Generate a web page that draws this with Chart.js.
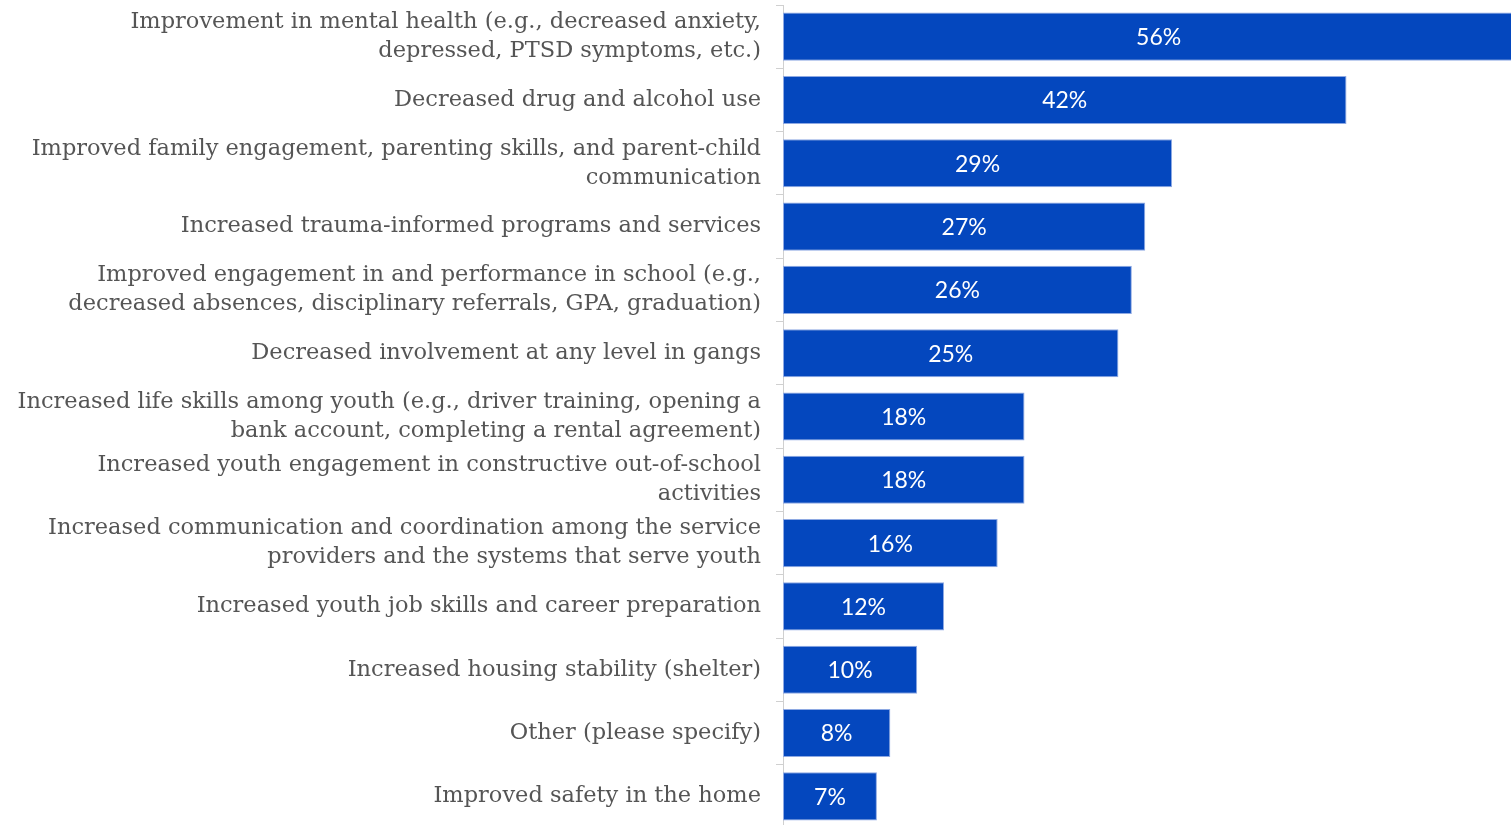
<!DOCTYPE html>
<html>
<head>
<meta charset="utf-8">
<script src="https://cdn.jsdelivr.net/npm/chart.js@4"></script>
<style>
  html, body { margin: 0; padding: 0; background: #fff; overflow: hidden; }
  #wrap { position: relative; width: 1588px; height: 830px; }
</style>
</head>
<body>
<div id="wrap"><canvas id="myChart"></canvas></div>
<script>
// outcomes reported, share of respondents
const categories = [
  ['Improvement in mental health (e.g., decreased anxiety,', 'depressed, PTSD symptoms, etc.)'],
  'Decreased drug and alcohol use',
  ['Improved family engagement, parenting skills, and parent-child', 'communication'],
  'Increased trauma-informed programs and services',
  ['Improved engagement in and performance in school (e.g.,', 'decreased absences, disciplinary referrals, GPA, graduation)'],
  'Decreased involvement at any level in gangs',
  ['Increased life skills among youth (e.g., driver training, opening a', 'bank account, completing a rental agreement)'],
  ['Increased youth engagement in constructive out-of-school', 'activities'],
  ['Increased communication and coordination among the service', 'providers and the systems that serve youth'],
  'Increased youth job skills and career preparation',
  'Increased housing stability (shelter)',
  'Other (please specify)',
  'Improved safety in the home'
];
const values = [56, 42, 29, 27, 26, 25, 18, 18, 16, 12, 10, 8, 7];

const barColor = '#0447be';

// white percentage text in the middle of each bar
const valueLabels = {
  id: 'valueLabels',
  afterDatasetsDraw(chart) {
    const ctx = chart.ctx;
    const meta = chart.getDatasetMeta(0);
    ctx.save();
    ctx.fillStyle = '#ffffff';
    ctx.font = '23px Lato';
    ctx.textAlign = 'center';
    ctx.textBaseline = 'middle';
    meta.data.forEach((bar, i) => {
      const cx = (bar.x + bar.base) / 2;
      ctx.fillText(values[i] + '%', cx, bar.y + 1);
    });
    ctx.restore();
  }
};

const ctx = document.getElementById('myChart').getContext('2d');
const myChart = new Chart(ctx, {
  type: 'bar',
  data: {
    labels: categories,
    datasets: [{
      data: values,
      backgroundColor: barColor,
      borderColor: '#8ea9e3',
      borderWidth: 1,
      borderSkipped: false,
      barPercentage: 0.76,
      categoryPercentage: 1
    }]
  },
  options: {
    indexAxis: 'y',
    responsive: true,
    maintainAspectRatio: false,
    animation: false,
    layout: { padding: { top: 5, bottom: 2, left: 0, right: 0 } },
    plugins: {
      legend: { display: false },
      tooltip: { enabled: false }
    },
    scales: {
      x: {
        display: false,
        min: 0,
        max: 60
      },
      y: {
        afterFit(scale) {
          scale.width = 783;
          // keep the first/last two-line labels from shrinking the plot
          scale.paddingTop = 0;
          scale.paddingBottom = 0;
        },
        border: { color: '#d0d0d0', width: 1 },
        grid: {
          drawOnChartArea: false,
          color: '#d0d0d0',
          tickLength: 7,
          offset: true
        },
        ticks: {
          color: '#555555',
          padding: 15,
          font: { family: '"DejaVu Serif", serif', size: 22.5, lineHeight: 1.29 }
        }
      }
    }
  },
  plugins: [valueLabels]
});
</script>
</body>
</html>
